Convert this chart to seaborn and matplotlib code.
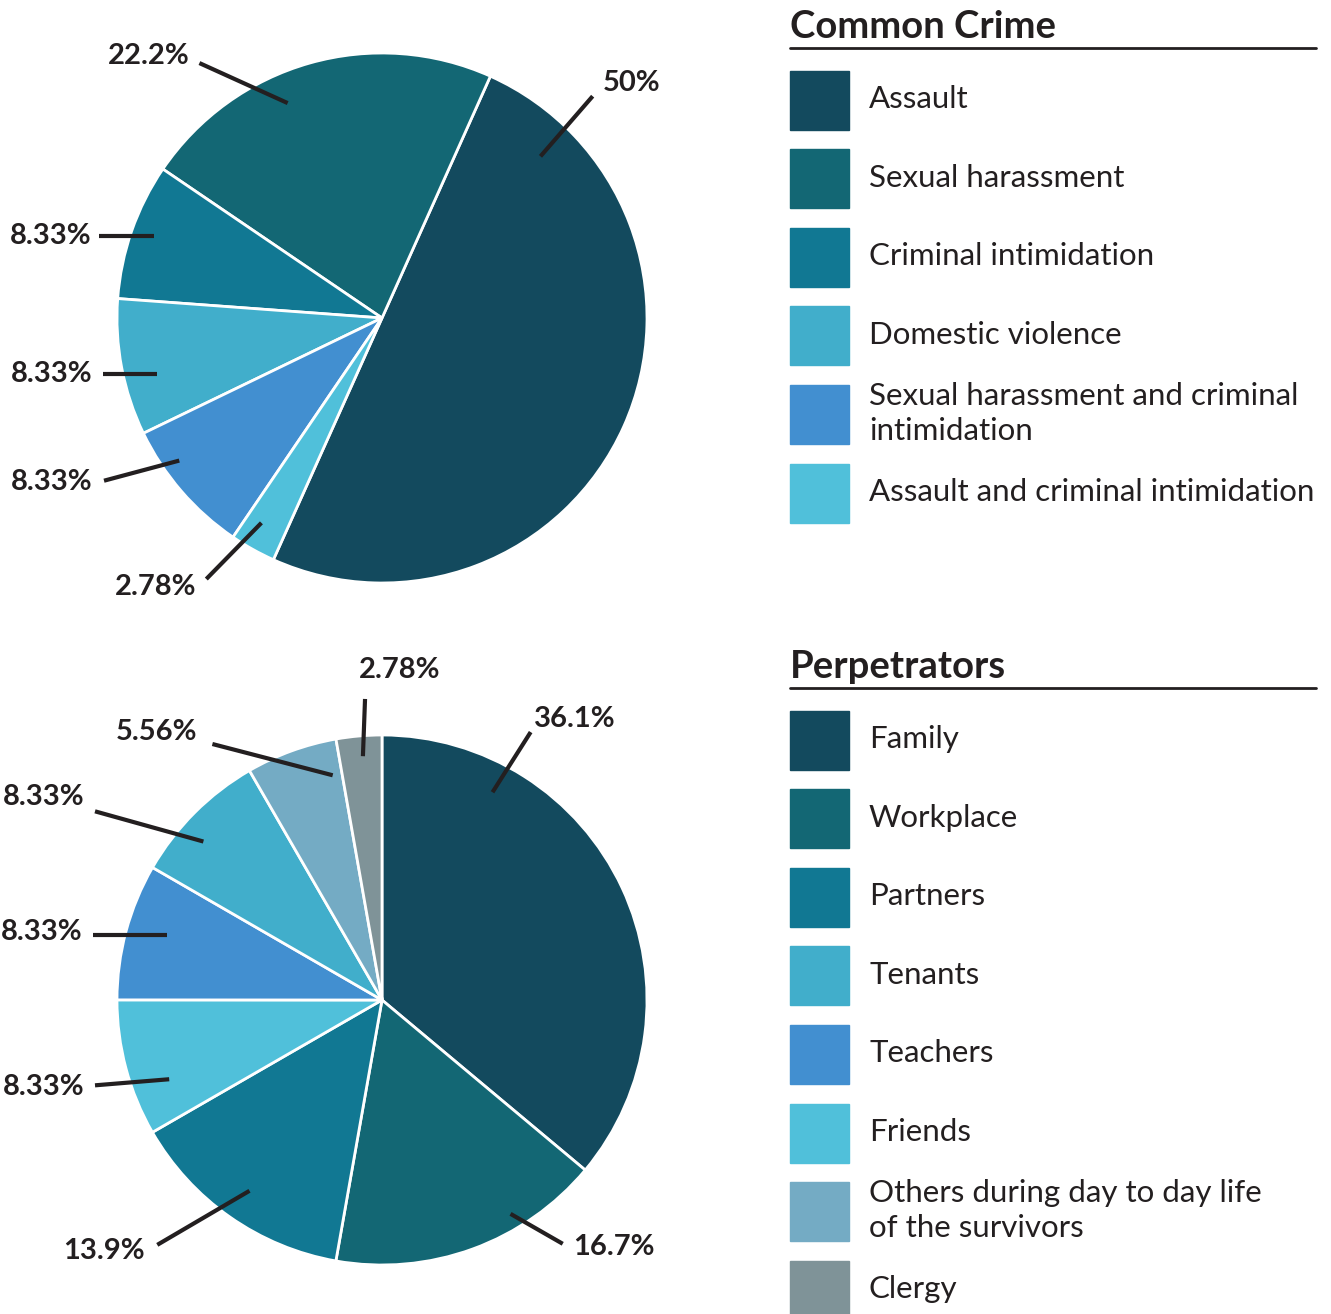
import matplotlib
matplotlib.use("Agg")
import matplotlib.pyplot as plt
from matplotlib.patches import Rectangle
import seaborn as sns

# --- data -------------------------------------------------------------
crime_labels = ["Assault", "Sexual harassment", "Criminal intimidation",
                "Domestic violence",
                "Sexual harassment and criminal\nintimidation",
                "Assault and criminal intimidation"]
crime_values = [50.0, 22.2, 8.33, 8.33, 8.33, 2.78]
crime_colors = ["#134a5e", "#136774", "#117893", "#41aecb", "#428fd0", "#50c0da"]

perp_labels = ["Family", "Workplace", "Partners", "Tenants", "Teachers",
               "Friends", "Others during day to day life\nof the survivors",
               "Clergy"]
perp_values = [36.1, 16.7, 13.9, 8.33, 8.33, 8.33, 5.56, 2.78]
perp_colors = ["#134a5e", "#136774", "#117893", "#41aecb", "#428fd0",
               "#50c0da", "#74abc4", "#7f9398"]
# order in which the slices go round the pie (clockwise from 12 o'clock)
perp_pie_order = [0, 1, 2, 5, 4, 3, 6, 7]

# leader lines: (x0, y0, x1, y1, text x, text y, ha) in pie-radius units
crime_label_pos = [
    (0.598, 0.610, 0.795, 0.837, 0.833, 0.886, "left"),
    (-0.356, 0.811, -0.689, 0.962, -0.727, 0.989, "right"),
    (-0.860, 0.311, -1.068, 0.311, -1.098, 0.311, "right"),
    (-0.848, -0.212, -1.053, -0.212, -1.091, -0.212, "right"),
    (-0.765, -0.538, -1.049, -0.614, -1.091, -0.617, "right"),
    (-0.455, -0.773, -0.663, -0.985, -0.701, -1.015, "right"),
]
perp_label_pos = [
    (0.417, 0.784, 0.561, 1.011, 0.572, 1.061, "left"),
    (0.485, -0.807, 0.682, -0.920, 0.720, -0.932, "left"),
    (-0.500, -0.720, -0.848, -0.924, -0.894, -0.947, "right"),
    (-0.674, 0.598, -1.083, 0.712, -1.121, 0.765, "right"),
    (-0.811, 0.246, -1.091, 0.246, -1.129, 0.258, "right"),
    (-0.803, -0.299, -1.083, -0.322, -1.121, -0.330, "right"),
    (-0.186, 0.848, -0.640, 0.966, -0.697, 1.011, "right"),
    (-0.072, 0.920, -0.064, 1.136, 0.068, 1.246, "center"),
]

sns.set_theme(style="white")
plt.rcParams["font.family"] = ["Lato", "DejaVu Sans"]

W, H = 1331, 1314
fig = plt.figure(figsize=(W / 100, H / 100), dpi=100)
TXT = "#231f20"
R = 265      # pie radius in pixels
LIM = 1.3


def pie_axes(cx, cy):
    half = LIM * R
    return fig.add_axes([(cx - half) / W, (H - cy - half) / H,
                         2 * half / W, 2 * half / H])


def fmt(v):
    return f"{v:g}%"


def draw_labels(ax, values, positions):
    for v, (x0, y0, x1, y1, tx, ty, ha) in zip(values, positions):
        ax.plot([x0, x1], [y0, y1], color=TXT, lw=3, solid_capstyle="butt")
        ax.text(tx, ty, fmt(v), ha=ha, va="center", fontsize=21,
                fontweight="bold", color=TXT)


# top pie
ax1 = pie_axes(382, 318)
ax1.pie(crime_values, colors=crime_colors, startangle=-114.2,
        counterclock=True, wedgeprops=dict(edgecolor="white", linewidth=2))
ax1.set_xlim(-LIM, LIM)
ax1.set_ylim(-LIM, LIM)
ax1.set_aspect("equal")
ax1.axis("off")
draw_labels(ax1, crime_values, crime_label_pos)

# bottom pie
ax2 = pie_axes(382, 1000)
ax2.pie([perp_values[i] for i in perp_pie_order],
        colors=[perp_colors[i] for i in perp_pie_order],
        startangle=90, counterclock=False,
        wedgeprops=dict(edgecolor="white", linewidth=2))
ax2.set_xlim(-LIM, LIM)
ax2.set_ylim(-LIM, LIM)
ax2.set_aspect("equal")
ax2.axis("off")
draw_labels(ax2, perp_values, perp_label_pos)

# legends drawn on an overlay in pixel coordinates
lg = fig.add_axes([0, 0, 1, 1])
lg.set_xlim(0, W)
lg.set_ylim(H, 0)
lg.axis("off")


def legend_block(title, labels, colors, top):
    lg.text(790, top + 27, title, fontsize=27.5, fontweight="bold",
            color=TXT, va="center", ha="left")
    lg.plot([790, 1316], [top + 48, top + 48], color=TXT, lw=2)
    for i, (lab, col) in enumerate(zip(labels, colors)):
        yc = top + 100 + i * 78.6
        lg.add_patch(Rectangle((790, yc - 29.5), 59, 59, color=col))
        lg.text(869, yc - 1, lab, fontsize=22.5, color=TXT, va="center",
                ha="left", linespacing=1.3)


legend_block("Common Crime", crime_labels, crime_colors, 0)
legend_block("Perpetrators", perp_labels, perp_colors, 640)

fig.savefig("out.png", dpi=100)
